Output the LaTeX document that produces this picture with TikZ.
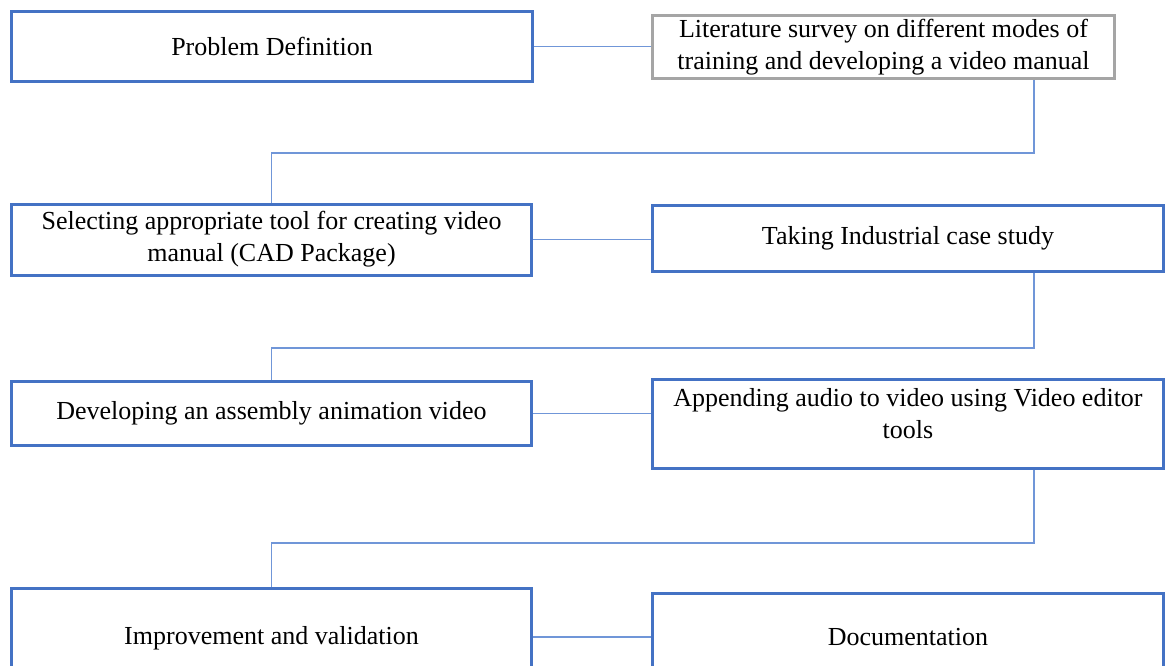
\documentclass[tikz,border=0pt]{standalone}
\usepackage{fontspec}
\setmainfont{Liberation Serif}
\definecolor{boxblue}{HTML}{4472C4}
\definecolor{linkblue}{HTML}{7096D8}
\definecolor{boxgray}{HTML}{A5A5A5}
\begin{document}
\begin{tikzpicture}[x=1pt,y=-1pt,
    stage/.style={draw=boxblue, line width=3pt, align=center, inner sep=0pt,
        font=\fontsize{26}{32}\selectfont},
    link/.style={draw=linkblue, line width=1.4pt}]
    \path[use as bounding box] (0,0) rectangle (1167,666);
    \clip (0,0) rectangle (1167,666);
    % left column
    \node[stage, minimum width=521pt, minimum height=70pt] (prob) at (272,46.5) {Problem Definition};
    \node[stage, minimum width=520pt, minimum height=71pt] (tool) at (271.5,239.5) {Selecting appropriate tool for creating video\\manual (CAD Package)};
    \node[stage, minimum width=520pt, minimum height=64pt] (anim) at (271.5,413.5) {Developing an assembly animation video};
    \node[stage, minimum width=520pt, minimum height=100pt] (impr) at (271.5,638) {Improvement and validation};
    % right column
    \node[stage, draw=boxgray, minimum width=462pt, minimum height=63pt] (lit) at (883.5,47) {Literature survey on different modes of\\training and developing a video manual};
    \node[stage, minimum width=511pt, minimum height=66pt] (case) at (908,238.5) {Taking Industrial case study};
    \node[stage, minimum width=511pt, minimum height=89pt] (audio) at (908,424) {};
    \node[stage, draw=none] (audiotext) at ([yshift=10pt]audio.center) {Appending audio to video using Video editor\\tools};
    \node[stage, minimum width=511pt, minimum height=94pt] (doc) at (908,640) {};
    \node[stage, draw=none] (doctext) at (908,637) {Documentation};
    % turns
    \coordinate (turn1) at (1034,153);
    \coordinate (turn2) at (1034,348);
    \coordinate (turn3) at (1034,543);
    % links
    \draw[link] (prob.east) -- (prob.east -| lit.west);
    \draw[link] (lit.south -| turn1) -- (turn1) -| (tool.north);
    \draw[link] (tool.east) -- (tool.east -| case.west);
    \draw[link] (case.south -| turn2) -- (turn2) -| (anim.north);
    \draw[link] (anim.east) -- (anim.east -| audio.west);
    \draw[link] (audio.south -| turn3) -- (turn3) -| (impr.north);
    \draw[link] (impr.east |- doctext) -- (doc.west |- doctext);
\end{tikzpicture}
\end{document}
